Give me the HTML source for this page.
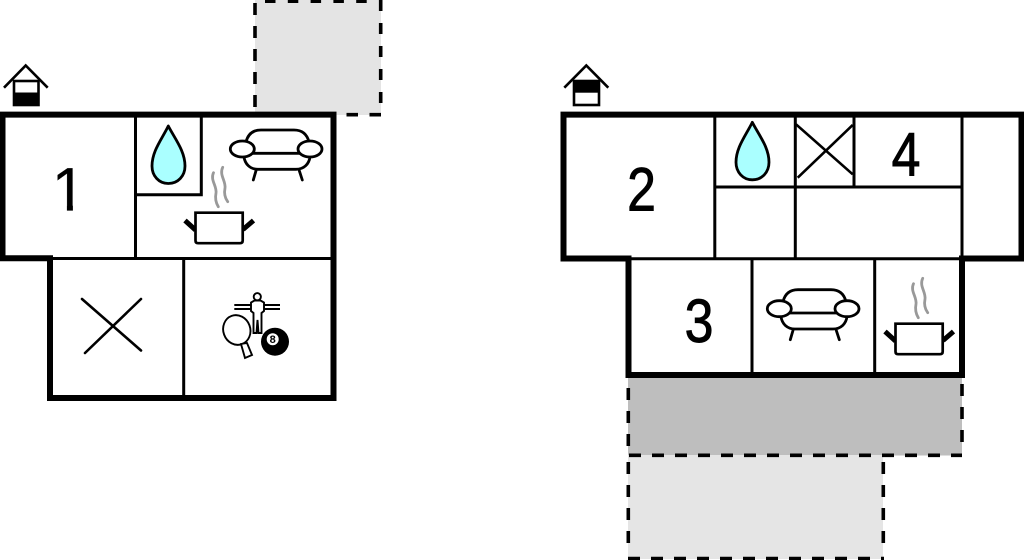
<!DOCTYPE html>
<html><head><meta charset="utf-8"><style>
html,body{margin:0;padding:0;background:#fff}
svg{display:block}
text{font-family:"Liberation Sans",sans-serif;fill:#000}
</style></head><body>
<svg width="1024" height="560" viewBox="0 0 1024 560" xmlns="http://www.w3.org/2000/svg">
<defs>
<g id="sofa" fill="none" stroke="#000" stroke-width="2.8" stroke-linecap="round">
<path d="M246 142C248 134 253 130 261 130H294C302 130 307 134 309 142"/>
<path d="M252 153.3H301"/>
<path d="M244 157C245 164 250 169.3 258 169.3H296C304 169.3 309 164 310 157"/>
<path d="M256 170.7L253.3 180M299.3 170.7L302.3 180"/>
<ellipse cx="242.3" cy="149" rx="12" ry="8" fill="#fff"/>
<ellipse cx="310" cy="149" rx="12" ry="8" fill="#fff"/>
</g>
<g id="pot">
<path d="M213.5 172.7C210 180 217 186 216 193C215 198 216 203 218.3 206.7M222.7 167.3C219 175 226 181 225 188C224 193 225 198 227.7 201.7" fill="none" stroke="#999" stroke-width="2.8" stroke-linecap="round"/>
<path d="M185 220.5L195.5 230M253.5 220.5L243 229.5" fill="none" stroke="#000" stroke-width="5"/>
<path d="M195.5 212.7H242.7V240.5Q242.7 243.2 240 243.2H198Q195.5 243.2 195.5 240.5Z" fill="#fff" stroke="#000" stroke-width="2.7"/>
</g>
<path id="drop" d="M168.3 126C162 139 152 151 152 166C152 176 159 183.5 168.3 183.5C178 183.5 185 176 185 166C185 151 175 139 168.3 126Z" fill="#aaffff" stroke="#000" stroke-width="2.8" stroke-linejoin="round"/>
</defs>

<!-- terraces -->
<rect x="255" y="0" width="126" height="115" fill="#e4e4e4"/>
<rect x="628" y="377" width="334" height="78.5" fill="#bebebe"/>
<rect x="628" y="455" width="255" height="104" fill="#e5e5e5"/>
<g fill="none" stroke="#000" stroke-width="3.6">
<path d="M255 3V107" stroke-dasharray="12 11"/>
<path d="M265 1.2H380" stroke-dasharray="10.5 12.3"/>
<path d="M380.7 0V104" stroke-dasharray="11 12"/>
<path d="M346.5 114.7H382" stroke-dasharray="11.5 11.5"/>
<path d="M628.3 388V452" stroke-dasharray="12 11"/>
<path d="M962 384V452" stroke-dasharray="12 11"/>
<path d="M629 455.3H962" stroke-dasharray="12 11"/>
<path d="M628.3 462V552" stroke-dasharray="12 11"/>
<path d="M883.3 462V552" stroke-dasharray="12 11"/>
<path d="M628 558.6H884" stroke-dasharray="12 11"/>
</g>

<!-- left interior -->
<g fill="none" stroke="#000" stroke-width="3">
<path d="M135.5 116V258M135.5 194.7H201.3V116M50 258.5H333M183.7 258V397"/>
<path d="M82 299L141 350.5M141 299L85 353" stroke-width="2.6" stroke-linecap="round"/>
</g>
<!-- left outer -->
<path d="M2.5 258.2V114.6H333.5V398H50V258.2Z" fill="none" stroke="#000" stroke-width="6"/>

<!-- right interior -->
<g fill="none" stroke="#000" stroke-width="3">
<path d="M714.8 116V258M795.3 116V258M854 116V187M962 116V258M714.8 187H962M628 258.8H962M752 258V373M874.7 258V373"/>
<path d="M796 124.3L852.7 174.3M852.7 125L797.7 177.7" stroke-width="2.6"/>
</g>
<!-- right outer -->
<path d="M628.5 258.5H563.5V114.6H1021.5V258.5H962V375H628.5Z" fill="none" stroke="#000" stroke-width="6"/>

<!-- houses -->
<g fill="none" stroke="#000" stroke-width="2.6">
<path d="M4 87.7L25.7 65.5L47.7 87.7"/>
<rect x="14" y="81" width="24.5" height="24" fill="#fff"/>
<path d="M564.3 87.7L586.3 65.5L608.3 87.7"/>
<rect x="574" y="81" width="25" height="24" fill="#fff"/>
</g>
<rect x="13" y="92.5" width="26" height="13" fill="#000"/>
<rect x="573" y="80" width="26.5" height="12.7" fill="#000"/>

<!-- icons -->
<use href="#drop"/>
<use href="#drop" transform="translate(584 -3.7)"/>
<use href="#sofa"/>
<use href="#sofa" transform="translate(537 159.7)"/>
<use href="#pot"/>
<use href="#pot" transform="translate(700 111)"/>

<!-- games -->
<g fill="none" stroke="#000" stroke-width="1.9">
<path d="M234.3 305H251M264 305H280M234.3 309H251M264 309H280" stroke-width="2"/>
<circle cx="257.3" cy="296.7" r="3.6"/>
<path d="M254.5 300.5L251 302.5V311L253.5 313V333H256.5L257.5 320L258.5 333H261.5V313L264 311V302.5L260.5 300.5Z" fill="#fff"/>
<ellipse cx="236.8" cy="330" rx="13.5" ry="15" transform="rotate(-20 236.8 330)" fill="#fff"/>
<path d="M241 344L247 343L252 355L245 358Z" fill="#fff"/>
</g>
<circle cx="275" cy="341.7" r="14" fill="#000"/>
<circle cx="272.7" cy="339.3" r="6" fill="#fff"/>
<text x="272.7" y="343.2" font-size="11" font-weight="bold" text-anchor="middle">8</text>

<!-- numbers -->
<text x="51.7" y="210.5" font-size="61" stroke="#000" stroke-width=".3">1</text>
<rect x="50" y="205.5" width="16.9" height="7" fill="#fff"/>
<rect x="72.9" y="205.5" width="17" height="7" fill="#fff"/>
<text transform="translate(641.5 210.5) scale(.85 1)" font-size="61" text-anchor="middle" stroke="#000" stroke-width=".9">2</text>
<text transform="translate(699 342) scale(.85 1)" font-size="61" text-anchor="middle" stroke="#000" stroke-width=".9">3</text>
<text transform="translate(906 175.5) scale(.85 1)" font-size="61" text-anchor="middle" stroke="#000" stroke-width=".9">4</text>
</svg>
</body></html>
